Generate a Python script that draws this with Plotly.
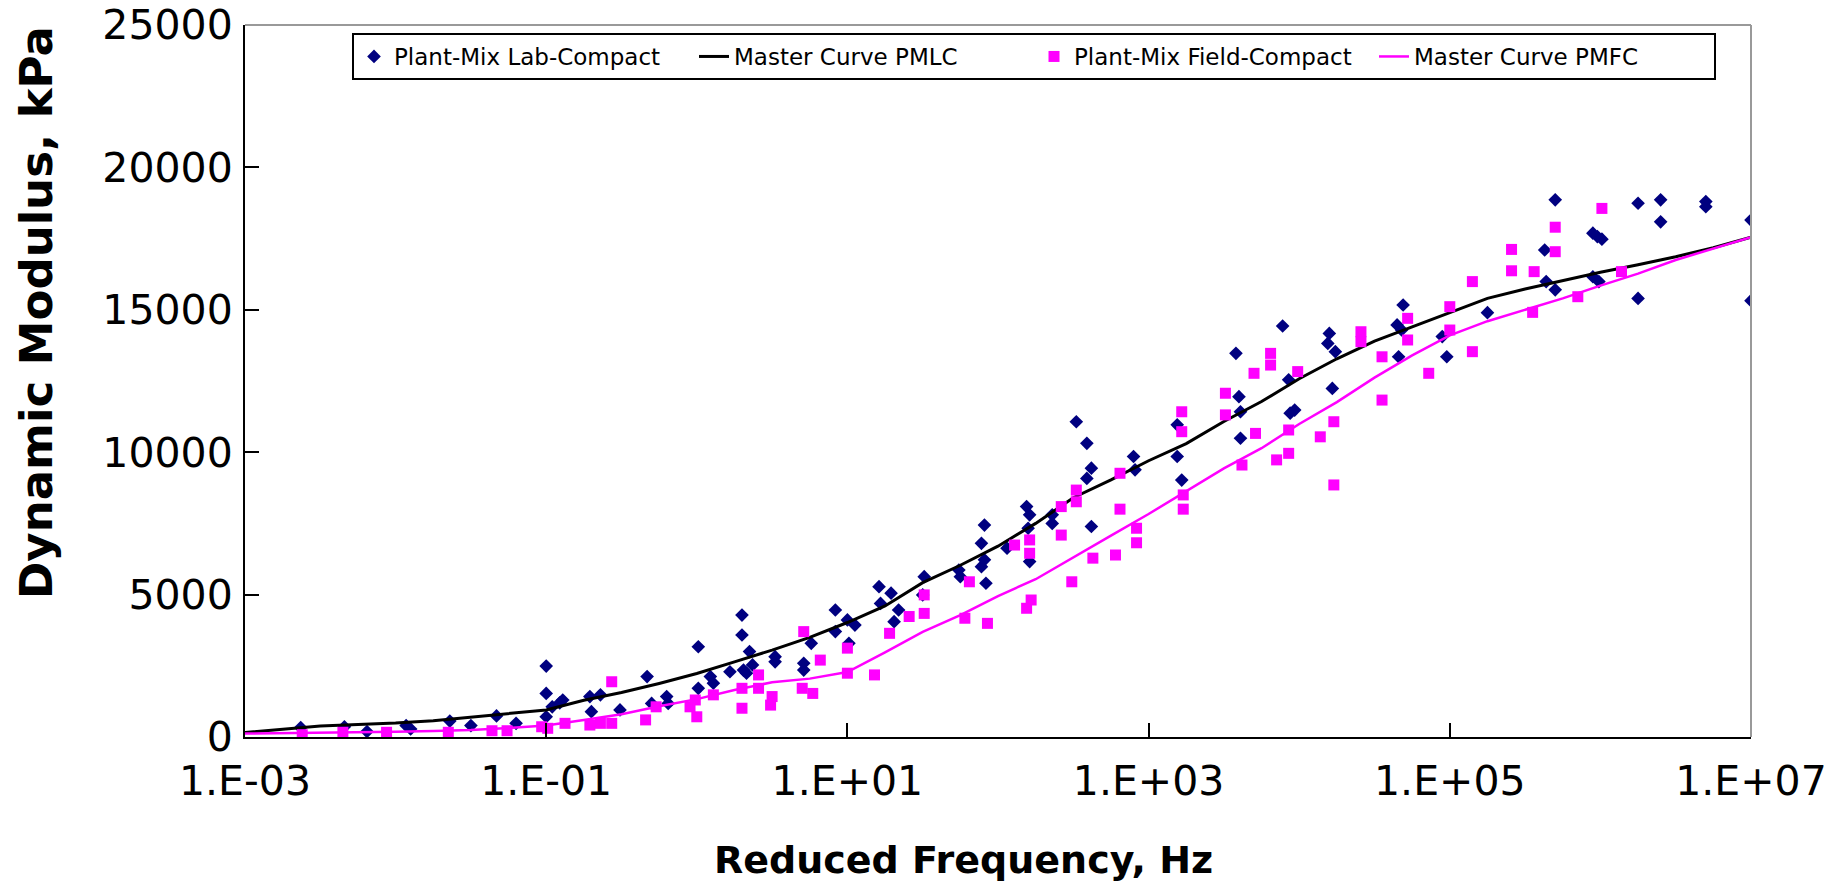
import numpy as np
import plotly.graph_objects as go

# ---------------- data ----------------
# Plant-Mix Lab-Compact measurements: log10(reduced frequency, Hz) and E* (kPa)
lab_log_freq = [
    -2.63, -2.34, -2.19, -1.93, -1.90, -1.64, -1.50, -1.33, -1.20, -1.00, -1.00, -0.96, -0.91, -0.89, -1.00,
    -0.71, -0.64, -0.70, -0.51, -0.33, -0.30, -0.20, -0.19, 0.01, 0.01, 0.09, 0.11, 0.22, 0.30, 0.30,
    0.35, 0.31, 0.33, 0.37, 0.52, 0.52, 0.71, 0.71, 0.76, 0.92, 0.92, 1.00, 1.01, 1.05, 1.21,
    1.22, 1.29, 1.31, 1.34,
    1.51, 1.50, 1.74, 1.75, 1.91, 1.89, 1.91, 1.89, 1.92, 2.06, 2.19, 2.21, 2.20, 2.21, 2.36,
    2.36, 2.52, 2.59, 2.62, 2.59, 2.62, 2.90, 2.91, 3.19, 3.19, 3.22, 3.58, 3.60, 3.61, 3.61,
    3.93, 3.94, 3.97, 4.22, 4.24, 4.66, 4.98, 3.89,
    5.70, 6.25, 6.40, 6.40, 6.70, 6.70, 7.00, 7.00, 5.95, 5.98, 6.01, 5.63, 5.64, 5.70, 5.95,
    5.99, 6.25, 5.25, 4.69, 4.65, 4.68, 4.20, 4.19, 4.95,
]
lab_modulus = [
    330, 360, 190, 400, 280, 560, 400, 740, 480, 2490, 1530, 1060, 1200, 1300, 710,
    1420, 1480, 890, 950, 2120, 1180, 1420, 1180, 3170, 1710, 2120, 1890, 2290, 4280, 3580,
    3000, 2350, 2240, 2530, 2820, 2640, 2590, 2350, 3290, 4460, 3700, 4110, 3290, 3930, 5280,
    4690, 5050, 4050, 4460,
    5630, 4990, 5860, 5630, 7440, 6800, 6220, 5980, 5400, 6630, 8090, 7800, 7330, 6160, 7800,
    7500, 11070, 10310, 9440, 9080, 7390, 9850, 9380, 10960, 9850, 9020, 13470, 11950, 11420, 10490,
    12540, 11370, 11480, 12240, 13530, 13350, 13350, 14430,
    18860, 18740, 18860, 18090, 18800, 18620, 18150, 15320, 17690, 17570, 17480, 17100, 15990, 15700, 16160,
    15990, 15400, 14900, 15170, 14470, 14290, 14170, 13820, 14060,
]

# Plant-Mix Field-Compact measurements
field_log_freq = [
    -2.62, -2.35, -2.06, -1.65, -1.36, -1.26, -1.03, -0.99, -0.875,
    -0.71, -0.64, -0.565, -0.565, -0.34, -0.27, -0.045, 0.00, -0.01, 0.11, 0.30, 0.30,
    0.41, 0.41, 0.49, 0.50, 0.70, 0.71, 0.77, 0.82, 1.00, 1.00, 1.18, 1.28,
    1.51, 1.51, 1.41, 1.78, 1.81, 1.93, 2.11, 2.21, 2.21, 2.22, 2.19, 2.42, 2.42, 2.49,
    2.52, 2.52, 2.63, 2.78, 2.81, 2.81, 2.92, 2.92, 3.22, 3.22, 3.23, 3.23, 3.51, 3.51,
    3.62, 3.70, 3.71, 3.81, 3.81, 3.85, 3.93, 3.93, 3.99, 4.14, 4.23, 4.23, 4.55, 4.55, 4.86,
    6.01, 5.70, 5.70, 5.41, 5.41, 5.56, 5.15, 5.00, 5.00, 4.72, 4.72, 4.41, 4.41, 5.15,
    5.55, 5.85, 6.14,
]
field_modulus = [
    80, 165, 165, 165, 220, 220, 360, 305, 480,
    420, 480, 1940, 480, 600, 1060, 1060, 710, 1300, 1480, 1710, 1010,
    2180, 1710, 1120, 1420, 1710, 3700, 1530, 2700, 3120, 2240, 2180, 3640,
    4990, 4340, 4230, 4170, 5450, 3990, 6740, 6920, 6450, 4810, 4520, 8090, 7090, 5450,
    8670, 8260, 6280, 6390, 9260, 8000, 7330, 6820, 11420, 10720, 8500, 8000, 12070, 11310,
    9550, 12770, 10660, 13470, 13060, 9730, 10780, 9960, 12830, 10540, 11070, 8850, 13350, 11830, 12770,
    18560, 17900, 17040, 17120, 16370, 16340, 15990, 15110, 14290, 14700, 13940, 14230, 13880, 13530,
    14910, 15460, 16340,
]

# Master curves
curve_log_freq = [
    -3.0, -2.75, -2.5, -2.25, -2.0, -1.75, -1.5, -1.25, -1.0, -0.75, -0.5, -0.25, 0.0, 0.25,
    0.5, 0.75, 1.0, 1.25, 1.5, 1.75, 2.0, 2.25, 2.5, 2.75, 3.0, 3.25, 3.5, 3.75, 4.0,
    4.25, 4.5, 4.75, 5.0, 5.25, 5.5, 5.75, 6.0, 6.25, 6.5, 6.75, 7.0,
]
pmlc_curve = [
    160, 280, 390, 440, 490, 570, 700, 810, 950, 1290, 1560, 1880, 2230, 2640,
    3050, 3500, 4020, 4600, 5420, 6030, 6700, 7500, 8400, 9030, 9700, 10300, 11080, 11780, 12580,
    13280, 13900, 14400, 14900, 15400, 15730, 16030, 16320, 16580, 16860, 17180, 17550,
]
pmfc_curve = [
    120, 130, 140, 160, 180, 210, 250, 320, 400, 600, 800, 1080, 1330, 1650,
    1920, 2050, 2280, 2970, 3690, 4280, 4950, 5540, 6320, 7070, 7830, 8620, 9430, 10140, 10990,
    11760, 12620, 13400, 14100, 14600, 15000, 15400, 15850, 16270, 16750, 17150, 17550,
]

x_tick_vals = [1e-3, 1e-1, 1e1, 1e3, 1e5, 1e7]
x_tick_text = ["1.E-03", "1.E-01", "1.E+01", "1.E+03", "1.E+05", "1.E+07"]
y_tick_vals = [0, 5000, 10000, 15000, 20000, 25000]
y_tick_text = ["0", "5000", "10000", "15000", "20000", "25000"]

# ---------------- figure ----------------
NAVY = "#000080"
MAGENTA = "#FF00FF"

fig = go.Figure()
fig.add_trace(go.Scatter(
    x=10 ** np.array(lab_log_freq), y=lab_modulus, mode="markers",
    name="Plant-Mix Lab-Compact",
    marker=dict(symbol="diamond", size=10.5, color=NAVY, line=dict(width=0)),
))
fig.add_trace(go.Scatter(
    x=10 ** np.array(curve_log_freq), y=pmlc_curve, mode="lines",
    name="Master Curve PMLC", line=dict(color="black", width=3),
))
fig.add_trace(go.Scatter(
    x=10 ** np.array(field_log_freq), y=field_modulus, mode="markers",
    name="Plant-Mix Field-Compact",
    marker=dict(symbol="square", size=11, color=MAGENTA, line=dict(width=0)),
))
fig.add_trace(go.Scatter(
    x=10 ** np.array(curve_log_freq), y=pmfc_curve, mode="lines",
    name="Master Curve PMFC", line=dict(color=MAGENTA, width=2.5),
))

L, R, T, B = 245, 1751, 25, 737
W, H = 1841, 886
pw, ph = R - L, B - T

axis_common = dict(
    showgrid=False, zeroline=False, showline=True, linecolor="black", linewidth=2,
    ticks="inside", ticklen=14, tickwidth=2, tickcolor="black", automargin=False,
    tickfont=dict(family="DejaVu Sans", size=41, color="black"),
)
fig.update_xaxes(type="log", range=[-3, 7], tickvals=x_tick_vals, ticktext=x_tick_text,
                 ticklabelstandoff=7, **axis_common)
fig.update_yaxes(range=[0, 25000], tickvals=y_tick_vals, ticktext=y_tick_text,
                 ticklabelstandoff=2, **axis_common)

fig.update_layout(
    width=W, height=H,
    margin=dict(l=L, r=W - R, t=T, b=H - B, pad=0, autoexpand=False),
    paper_bgcolor="white", plot_bgcolor="white",
    showlegend=True,
    legend=dict(
        orientation="h", x=(352 - L) / pw, y=(B - 33) / ph, xanchor="left", yanchor="top",
        bordercolor="black", borderwidth=2, bgcolor="white",
        font=dict(family="DejaVu Sans", size=23, color="black"),
        entrywidth=295, entrywidthmode="pixels",
    ),
    shapes=[
        dict(type="line", xref="paper", yref="paper", x0=0, x1=1, y0=1, y1=1,
             line=dict(color="#999999", width=2)),
        dict(type="line", xref="paper", yref="paper", x0=1, x1=1, y0=0, y1=1,
             line=dict(color="#999999", width=2)),
    ],
    annotations=[
        dict(text="<b>Dynamic Modulus, kPa</b>", textangle=-90, showarrow=False,
             xref="paper", yref="paper", x=(36 - L) / pw, y=(B - 313) / ph,
             xanchor="center", yanchor="middle",
             font=dict(family="DejaVu Sans", size=45, color="black")),
        dict(text="<b>Reduced Frequency, Hz</b>", showarrow=False,
             xref="paper", yref="paper", x=(963 - L) / pw, y=(B - 860) / ph,
             xanchor="center", yanchor="middle",
             font=dict(family="DejaVu Sans", size=38, color="black")),
    ],
)

fig.write_html("out.html")
